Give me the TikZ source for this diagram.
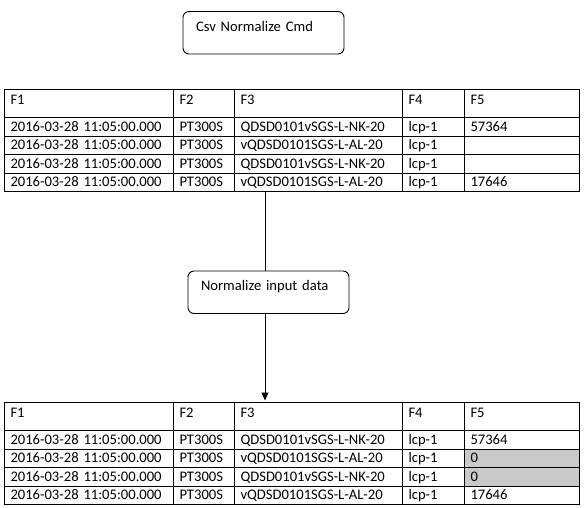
\documentclass[tikz,border=0pt]{standalone}
\usepackage{fontspec}
\setmainfont{Carlito}
\usetikzlibrary{
    arrows.meta,
    positioning
}

\begin{document}
\begin{tikzpicture}[
    x=1pt, y=-1pt,
    font=\fontsize{14.6}{17}\selectfont,
    cmdbox/.style={rectangle, draw=black, line width=0.9pt,
                   rounded corners=6pt, anchor=north west,
                   inner xsep=13pt, inner ysep=0pt, outer sep=0pt,
                   text width=135pt, align=left,
                   text height=19.5pt, text depth=23pt},
    head/.style={rectangle, draw=black, line width=0.9pt,
                 inner xsep=6.5pt, inner ysep=0pt, outer sep=0pt,
                 align=left, text height=15pt, text depth=13.5pt},
    cell/.style={head, text height=13.6pt, text depth=5pt},
    marked/.style={fill=black!21},
    line/.style={line width=0.9pt},
    arrow/.style={-{Triangle[width=7pt,length=8pt]}, line width=0.9pt}
]
    \useasboundingbox (0,0) rectangle (585,507);

    % Commands
    \node (cmd) [cmdbox] at (183,11.5) {Csv Normalize Cmd};
    \node (norm) [cmdbox] at (188,271) {Normalize input data};

    % Input table
    \node (in-0-1) [head, anchor=north west, text width=156pt] at (4,89) {F1};
    \node (in-0-2) [head, text width=48pt, right=0pt of in-0-1] {F2};
    \node (in-0-3) [head, text width=155pt, right=0pt of in-0-2] {F3};
    \node (in-0-4) [head, text width=49pt, right=0pt of in-0-3] {F4};
    \node (in-0-5) [head, text width=102pt, right=0pt of in-0-4] {F5};
    \foreach \r/\id/\val [remember=\r as \p (initially 0)] in
        {1/QDSD0101vSGS-L-NK-20/57364, 2/vQDSD0101SGS-L-AL-20/{},
         3/QDSD0101vSGS-L-NK-20/{}, 4/vQDSD0101SGS-L-AL-20/17646} {
        \node (in-\r-1) [cell, text width=156pt, below=0pt of in-\p-1] {2016-03-28 11:05:00.000};
        \node (in-\r-2) [cell, text width=48pt, below=0pt of in-\p-2] {PT300S};
        \node (in-\r-3) [cell, text width=155pt, below=0pt of in-\p-3] {\id};
        \node (in-\r-4) [cell, text width=49pt, below=0pt of in-\p-4] {lcp-1};
        \node (in-\r-5) [cell, text width=102pt, below=0pt of in-\p-5] {\val};
    }

    % Output table
    \node (out-0-1) [head, anchor=north west, text width=156pt] at (4,402) {F1};
    \node (out-0-2) [head, text width=48pt, right=0pt of out-0-1] {F2};
    \node (out-0-3) [head, text width=155pt, right=0pt of out-0-2] {F3};
    \node (out-0-4) [head, text width=49pt, right=0pt of out-0-3] {F4};
    \node (out-0-5) [head, text width=102pt, right=0pt of out-0-4] {F5};
    \foreach \r/\id/\val/\fc [remember=\r as \p (initially 0)] in
        {1/QDSD0101vSGS-L-NK-20/57364/white, 2/vQDSD0101SGS-L-AL-20/0/black!21,
         3/QDSD0101vSGS-L-NK-20/0/black!21, 4/vQDSD0101SGS-L-AL-20/17646/white} {
        \node (out-\r-1) [cell, text width=156pt, below=0pt of out-\p-1] {2016-03-28 11:05:00.000};
        \node (out-\r-2) [cell, text width=48pt, below=0pt of out-\p-2] {PT300S};
        \node (out-\r-3) [cell, text width=155pt, below=0pt of out-\p-3] {\id};
        \node (out-\r-4) [cell, text width=49pt, below=0pt of out-\p-4] {lcp-1};
        \node (out-\r-5) [cell, fill=\fc, text width=102pt, below=0pt of out-\p-5] {\val};
    }

    % Flow
    \draw [line] ([xshift=-3.5pt]norm.north |- in-4-3.south) -- ([xshift=-3.5pt]norm.north);
    \draw [arrow, shorten >=1.5pt] ([xshift=-3.5pt]norm.south) -- ([xshift=-3.5pt]norm.south |- out-0-3.north);

\end{tikzpicture}
\end{document}
